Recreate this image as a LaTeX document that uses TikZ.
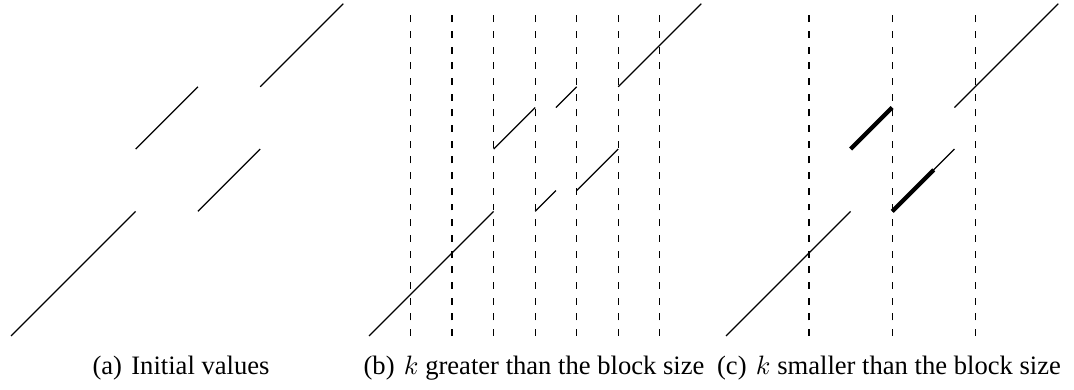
\documentclass[tikz,border=0pt]{standalone}
\usepackage{fontspec}
\setmainfont{Liberation Serif}
\begin{document}
\begin{tikzpicture}[x=0.376pt,y=0.376pt,
  seg/.style={line width=0.45pt},
  thickseg/.style={line width=1.6pt},
  grid/.style={line width=0.45pt, dash pattern=on 2.6pt off 3.3pt},
  captext/.style={anchor=base, font=\fontsize{10}{12}\selectfont, inner sep=0pt}]
\useasboundingbox (0,0) rectangle (1074,390);
% (a) initial values
\begin{scope}[shift={(11,54)}, scale=62.3]
  \draw[seg] (0,0) -- (2,2);
  \draw[seg] (2,3) -- (3,4);
  \draw[seg] (3,2) -- (4,3);
  \draw[seg] (4,4) -- (16/3,16/3);
\end{scope}
% (b) k greater than block size
\begin{scope}[shift={(369,54)}, scale=62.3]
  \foreach \i in {1,...,7} \draw[grid] (\i*2/3,0) -- (\i*2/3,5.25);
  \draw[seg] (0,0) -- (2,2);
  \draw[seg] (2,3) -- (8/3,11/3);
  \draw[seg] (3,11/3) -- (10/3,4);
  \draw[seg] (8/3,2) -- (3,7/3);
  \draw[seg] (10/3,7/3) -- (4,3);
  \draw[seg] (4,4) -- (16/3,16/3);
\end{scope}
% (c) k smaller than block size
\begin{scope}[shift={(726,54)}, scale=62.3]
  \foreach \i in {1,2,3} \draw[grid] (\i*4/3,0) -- (\i*4/3,5.25);
  \draw[seg] (0,0) -- (2,2);
  \draw[thickseg] (2,3) -- (8/3,11/3);
  \draw[seg] (8/3,2) -- (11/3,3);
  \draw[thickseg] (8/3,2) -- (10/3,8/3);
  \draw[seg] (11/3,11/3) -- (16/3,16/3);
\end{scope}
\node[captext] (capa) at (181,15.7) {(a)\hspace{3.5pt}Initial values};
\node[captext] (capb) at (534,15.7) {(b)\hspace{3.5pt}$k$ greater than the block size};
\node[captext] (capc) at (889,15.7) {(c)\hspace{3.5pt}$k$ smaller than the block size};
\end{tikzpicture}
\end{document}
